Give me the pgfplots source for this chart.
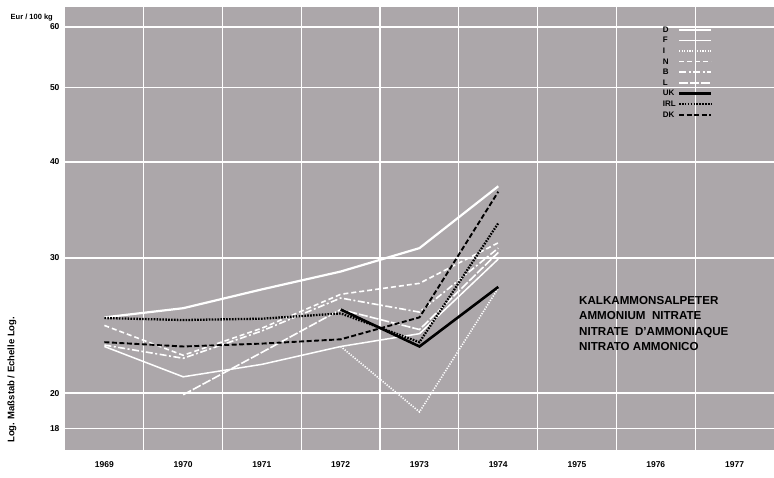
\documentclass[border=0pt]{standalone}
\usepackage{fontspec}
\setmainfont{Liberation Sans}
\usepackage{pgfplots}
\pgfplotsset{compat=1.18}
\definecolor{bg}{RGB}{172,167,170}

\begin{document}
\begin{tikzpicture}[x=1pt,y=1pt]
\useasboundingbox (-65,-28) rectangle (709,450);
\begin{axis}[
    at={(0,0)}, anchor=south west,
    scale only axis,
    width=709pt, height=443pt,
    ymode=log,
    xmin=1968.5, xmax=1977.5,
    ymin=16.86, ymax=63.7,
    xtick={1969,...,1977},
    xticklabels={1969,1970,1971,1972,1973,1974,1975,1976,1977},
    minor xtick={1969.5,1970.5,...,1976.5},
    ytick={18,20,30,40,50,60},
    yticklabels={18,20,30,40,50,60},
    xminorgrids=true, ymajorgrids=true,
    grid style={white, line width=1.2pt},
    minor grid style={white, line width=1.2pt},
    major tick length=0pt, minor tick length=0pt,
    axis line style={draw=none},
    axis background/.style={fill=bg},
    ticklabel style={font=\bfseries\fontsize{8.5}{10}\selectfont},
    xticklabel style={yshift=-8pt},
    yticklabel style={xshift=-2pt},
    legend plot pos=right,
    legend cell align=left,
    legend image code/.code={\draw[#1] (0pt,0pt) -- (32pt,0pt);},
    legend style={at={(axis description cs:0.843,0.957)}, anchor=north west,
        draw=none, fill=none, inner sep=0pt, row sep=3.4pt, column sep=2pt,
        font=\bfseries\fontsize{8}{9}\selectfont,
        nodes={inner sep=0pt, text height=6pt, text depth=1.2pt}},
  ]
  % D
  \addplot[white, line width=2.2pt] coordinates {
    (1969,25.1) (1970,25.8) (1971,27.3) (1972,28.8) (1973,30.9) (1974,37.2)};
  % F
  \addplot[white, line width=1.5pt] coordinates {
    (1969,23.0) (1970,21.0) (1971,21.8) (1972,23.0) (1973,23.9) (1974,29.9)};
  % I
  \addplot[white, line width=1.6pt, dash pattern=on 1.2pt off 1.4pt] coordinates {
    (1972,23.0) (1973,18.9) (1974,27.4)};
  % N
  \addplot[white, line width=1.6pt, dash pattern=on 5pt off 3pt] coordinates {
    (1969,24.5) (1970,22.4) (1971,24.3) (1972,26.9) (1973,27.8) (1974,31.4)};
  % B
  \addplot[white, line width=1.6pt, dash pattern=on 7pt off 2.5pt on 2pt off 2.5pt] coordinates {
    (1969,23.1) (1970,22.2) (1971,24.1) (1972,26.6) (1973,25.5) (1974,30.9)};
  % L
  \addplot[white, line width=1.6pt, dash pattern=on 9pt off 2pt] coordinates {
    (1970,19.9) (1971,22.6) (1972,25.7) (1973,24.2) (1974,30.5)};
  % UK
  \addplot[black, line width=2.6pt] coordinates {
    (1972,25.7) (1973,23.0) (1974,27.5)};
  % IRL
  \addplot[black, line width=2.3pt, dash pattern=on 1.6pt off 1.3pt] coordinates {
    (1969,25.05) (1970,24.9) (1971,25.0) (1972,25.4) (1973,23.3) (1974,33.3)};
  % DK
  \addplot[black, line width=1.9pt, dash pattern=on 5pt off 2.5pt] coordinates {
    (1969,23.3) (1970,23.0) (1971,23.2) (1972,23.5) (1973,25.1) (1974,36.6)};
  \legend{D,F,I,N,B,L,UK,IRL,DK}
\end{axis}
\node[anchor=east, inner sep=0pt, font=\bfseries\fontsize{7.5}{8}\selectfont] at (-12,432) {Eur / 100 kg};
\node[rotate=90, anchor=west, inner sep=0pt, font=\bfseries\fontsize{9.5}{10}\selectfont] at (-53,7) {Log. Maßstab / Echelle Log.};
\node[anchor=north west, align=left, inner sep=0pt, font=\bfseries\fontsize{11.6}{15.5}\selectfont] at (514,154)
  {KALKAMMONSALPETER\\AMMONIUM~~NITRATE\\NITRATE~~D'AMMONIAQUE\\NITRATO AMMONICO};
\end{tikzpicture}
\end{document}
